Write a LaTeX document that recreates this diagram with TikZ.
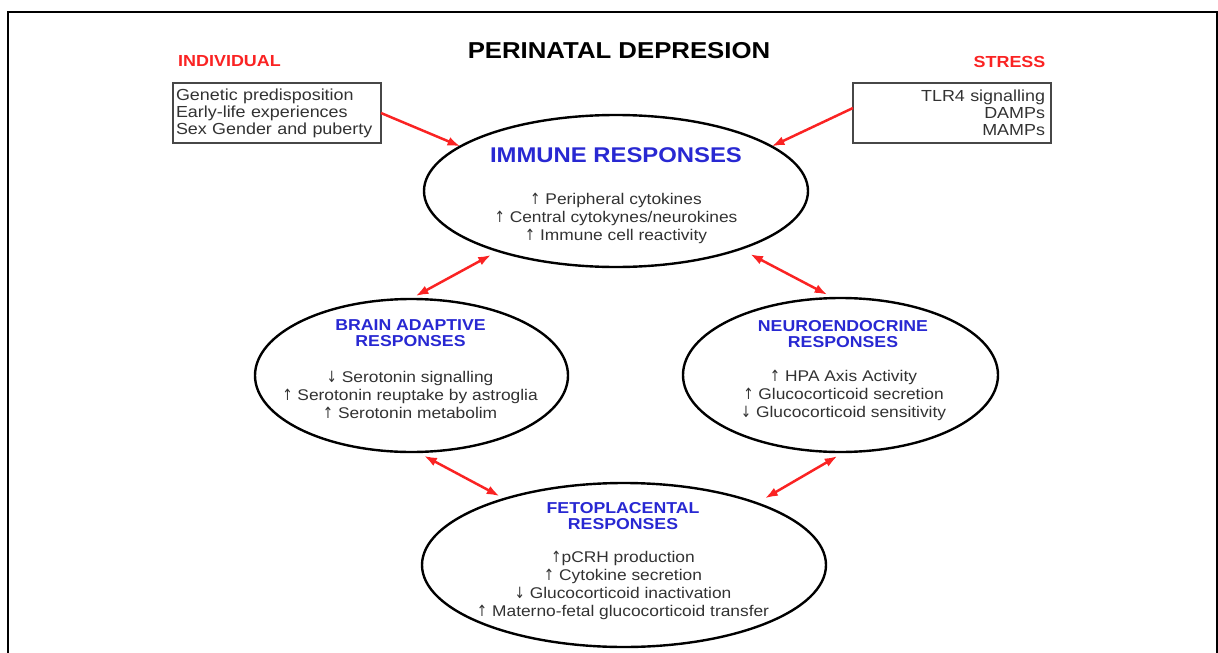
\documentclass[tikz,border=0pt]{standalone}
\usepackage{fontspec}
\setmainfont{Liberation Sans}[FakeStretch=1.12]
\newfontfamily\arrowfont{DejaVu Sans}
\newcommand{\upa}{{\arrowfont\addfontfeature{FakeStretch=0.8}↑}}
\newcommand{\dna}{{\arrowfont\addfontfeature{FakeStretch=0.8}↓}}
\usetikzlibrary{arrows.meta,shapes.geometric}
\definecolor{tblue}{RGB}{40,40,210}
\definecolor{tred}{RGB}{250,35,35}
\definecolor{tgray}{RGB}{50,50,50}
\begin{document}
\begin{tikzpicture}[x=1pt,y=-1pt,
  ell/.style={ellipse,draw=black,line width=2.4pt,inner sep=0pt,outer sep=0pt},
  infobox/.style={draw=black!72,line width=1.8pt,inner ysep=0pt,outer sep=0pt,minimum height=60pt,text=tgray,font=\fontsize{16}{17}\selectfont},
  etitle/.style={text=tblue,font=\bfseries\fontsize{15.8}{15.8}\selectfont,align=center,inner sep=0pt},
  eitems/.style={text=tgray,font=\fontsize{15.5}{18}\selectfont,align=center,inner sep=0pt},
  redlabel/.style={text=tred,font=\bfseries\fontsize{16}{18}\selectfont,inner sep=0pt},
  link/.style={draw=tred,line width=2.5pt,-{Latex[length=13pt,width=9pt]}},
  dlink/.style={draw=tred,line width=2.5pt,{Latex[length=13pt,width=9pt]}-{Latex[length=13pt,width=9pt]}},
]
\useasboundingbox (0,0) rectangle (1218,653);
% frame
\draw[line width=2pt] (8,653) -- (8,12) -- (1217,12) -- (1217,653);

% title and labels
\node[inner sep=0pt,font=\bfseries\fontsize{23}{26}\selectfont] (title) at (619,51) {PERINATAL DEPRESION};
\node[redlabel] (indiv) at (229.5,61.5) {INDIVIDUAL};
\node[redlabel] (stress) at (1009.5,61.5) {STRESS};

% boxes
\node[infobox,minimum width=208pt,text width=202pt,inner xsep=3pt,align=left] (lbox) at (277,113)
  {Genetic predisposition\\Early-life experiences\\Sex Gender and puberty};
\node[infobox,minimum width=198pt,text width=186pt,inner xsep=6pt,align=right] (rbox) at (952,113)
  {TLR4 signalling\\DAMPs\\MAMPs};

% ellipses
\node[ell,minimum width=384pt,minimum height=152pt] (imm) at (616,191) {};
\node[ell,minimum width=313pt,minimum height=153pt] (brain) at (411.5,375.5) {};
\node[ell,minimum width=315pt,minimum height=154pt] (neuro) at (840.5,375) {};
\node[ell,minimum width=404pt,minimum height=164pt] (feto) at (624,565) {};

% ellipse texts
\node[text=tblue,font=\bfseries\fontsize{21.3}{24}\selectfont,inner sep=0pt] (immt) at (616,155) {IMMUNE RESPONSES};
\node[eitems] (immi) at (616,218) {\upa\ Peripheral cytokines\\\upa\ Central cytokynes/neurokines\\\upa\ Immune cell reactivity};

\node[etitle] (braint) at (410.5,333.5) {BRAIN ADAPTIVE\\RESPONSES};
\node[eitems] (braini) at (410,395) {\dna\ Serotonin signalling\\\upa\ Serotonin reuptake by astroglia\\\upa\ Serotonin metabolim};

\node[etitle] (neurot) at (843,334) {NEUROENDOCRINE\\RESPONSES};
\node[eitems] (neuroi) at (843.5,395) {\upa\ HPA Axis Activity\\\upa\ Glucocorticoid secretion\\\dna\ Glucocorticoid sensitivity};

\node[etitle] (fetot) at (623,516) {FETOPLACENTAL\\RESPONSES};
\node[eitems] (fetoi) at (623,585.5) {\upa pCRH production\\\upa\ Cytokine secretion\\\dna\ Glucocorticoid inactivation\\\upa\ Materno-fetal glucocorticoid transfer};

% connectors
\draw[link] (lbox.east) -- (imm.164);
\draw[link] ([yshift=5pt]rbox.west) -- (imm.16);
\draw[dlink,shorten <=8pt,shorten >=6pt] (imm.207.3) -- (brain.91);
\draw[dlink,shorten <=11pt,shorten >=7pt] (imm.335.5) -- (neuro.95.8);
\draw[dlink,shorten <=8pt,shorten >=5.6pt] (brain.-86) -- (feto.151.8);
\draw[dlink,shorten <=8pt,shorten >=9.5pt] (neuro.-87) -- (feto.25.9);
\end{tikzpicture}
\end{document}
